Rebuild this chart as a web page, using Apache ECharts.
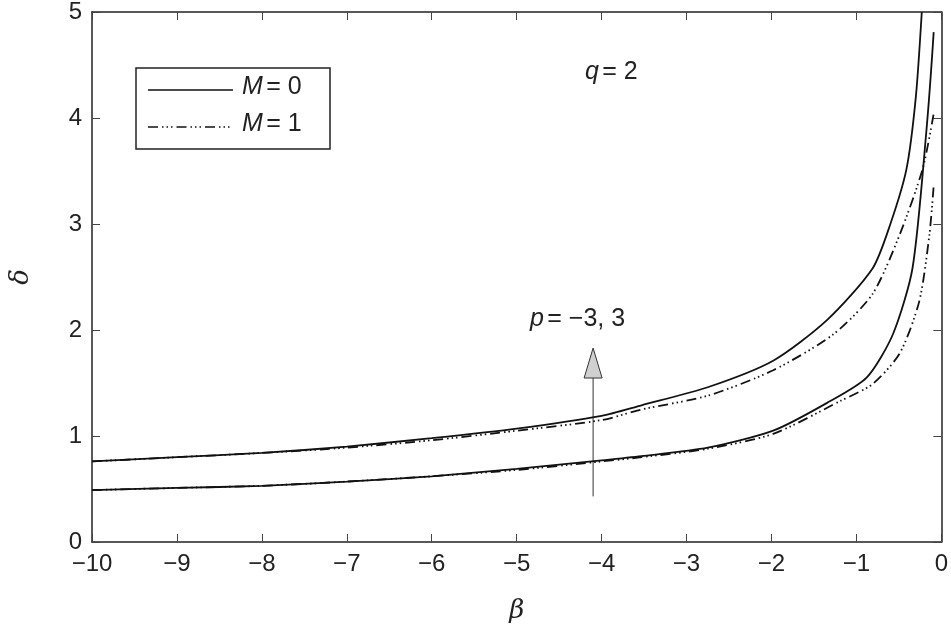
<!DOCTYPE html>
<html><head><meta charset="utf-8">
<script src="https://cdn.jsdelivr.net/npm/echarts@6/dist/echarts.min.js"></script>
<style>html,body{margin:0;background:#fff}#c{width:951px;height:631px}</style>
</head><body><div id="c"></div>
<script>
const upperM0 = [[-10,0.76],[-9,0.8],[-8,0.84],[-7,0.9],[-6,0.98],[-5,1.07],[-4,1.19],[-3.53,1.29],[-2.75,1.46],[-1.98,1.71],[-1.35,2.09],[-0.81,2.58],[-0.6,3.0],[-0.41,3.52],[-0.3,4.2],[-0.23,5.0]];
const upperM1 = [[-10,0.76],[-9,0.8],[-8,0.84],[-7,0.89],[-6,0.96],[-5,1.05],[-4,1.15],[-3.53,1.25],[-2.75,1.38],[-1.98,1.62],[-1.27,1.96],[-0.81,2.34],[-0.49,2.9],[-0.22,3.52],[-0.09,4.04]];
const lowerM0 = [[-10,0.49],[-9,0.51],[-8,0.53],[-7,0.57],[-6,0.62],[-5,0.69],[-4,0.77],[-3.53,0.81],[-2.75,0.89],[-1.98,1.05],[-1.35,1.31],[-0.88,1.55],[-0.57,1.96],[-0.34,2.58],[-0.18,3.84],[-0.09,4.81]];
const lowerM1 = [[-10,0.49],[-9,0.51],[-8,0.53],[-7,0.57],[-6,0.62],[-5,0.68],[-4,0.76],[-3.53,0.8],[-2.75,0.88],[-1.98,1.02],[-1.19,1.33],[-0.81,1.49],[-0.49,1.78],[-0.26,2.27],[-0.14,2.9],[-0.09,3.36]];
const arrowFrom = [-4.1,0.43], arrowTo = [-4.1,1.83];

const dashM1 = [10,4,1.5,3,1.5,3,1.5,4];
const font = 'Liberation Sans';
const chart = echarts.init(document.getElementById('c'));
const ax = (pos, show) => ({
  type:'value', position:pos, min:0, max:5, interval:1,
  axisLine:{show:true,onZero:false,lineStyle:{color:'#222',width:1.5}},
  axisTick:{show:true,inside:true,length:8,lineStyle:{color:'#444'}},
  axisLabel:{show:show,color:'#222',fontSize:24,fontFamily:font,margin:10,
    formatter:v=>String(v).replace('-','\u2212')},
  splitLine:{show:false}
});
const xa = (pos, show) => Object.assign(ax(pos, show), {min:-10,max:0});
const line = (d, solid) => ({type:'line', data:d, smooth:0.25, showSymbol:false, silent:true,
  lineStyle:{color:'#111', width:1.8, type: solid ? 'solid' : dashM1}});
chart.setOption({
  animation:false,
  grid:{left:87,right:9,top:10,bottom:89},
  xAxis:[Object.assign(xa('bottom',true),{name:'β',nameLocation:'middle',nameGap:56,
      nameTextStyle:{fontSize:26,fontStyle:'italic',fontFamily:'DejaVu Serif',color:'#222'}}),
    xa('top',false)],
  yAxis:[Object.assign(ax('left',true),{name:'δ',nameLocation:'middle',nameGap:58,nameRotate:90,
      nameTextStyle:{fontSize:26,fontStyle:'italic',fontFamily:'DejaVu Serif',color:'#222'}}),
    ax('right',false)],
  series:[line(upperM0,true),line(upperM1,false),line(lowerM0,true),line(lowerM1,false)]
});
const p0 = chart.convertToPixel({gridIndex:0}, arrowFrom);
const p1 = chart.convertToPixel({gridIndex:0}, arrowTo);
const txt = (x,y,parts) => ({type:'text', left:x, top:y, style:{rich:{i:{fontStyle:'italic',fontSize:25,fontFamily:font,fill:'#222'},n:{fontSize:25,fontFamily:font,fill:'#222'}},
  text:parts}});
chart.setOption({graphic:[
  {type:'rect',shape:{x:136,y:68,width:194,height:81},style:{fill:'#fff',stroke:'#222',lineWidth:1.5}},
  {type:'line',shape:{x1:148,y1:90,x2:233,y2:90},style:{stroke:'#111',lineWidth:1.6}},
  {type:'line',shape:{x1:148,y1:127,x2:233,y2:127},style:{stroke:'#111',lineWidth:1.6,lineDash:dashM1}},
  txt(242,75,'{i|M} {n|= 0}'),
  txt(242,112,'{i|M} {n|= 1}'),
  txt(585,60,'{i|q} {n|= 2}'),
  txt(530,307,'{i|p} {n|= \u22123, 3}'),
  {type:'line',shape:{x1:p0[0],y1:p0[1],x2:p1[0],y2:p1[1]+30},style:{stroke:'#333',lineWidth:1}},
  {type:'polygon',shape:{points:[[p1[0],p1[1]],[p1[0]-9,p1[1]+30],[p1[0]+9,p1[1]+30]]},
    style:{fill:'#d0d0d0',stroke:'#333',lineWidth:1}}
]});
</script></body></html>
